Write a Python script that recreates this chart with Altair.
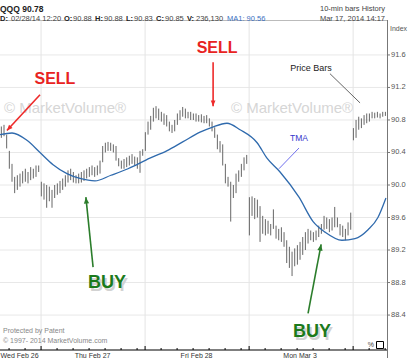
import altair as alt
import pandas as pd

# ---------------- data ----------------
# 10-minute bars, Wed Feb 26 (partial) .. Tue Mar 4 (partial)
high = [90.72, 90.74, 90.62, 90.42, 90.26, 90.10, 90.12, 90.14, 90.17, 90.20, 90.16, 90.22, 90.20, 90.24, 90.24,
        90.04, 90.02, 90.00, 89.98, 89.94, 90.00, 90.02, 90.05, 90.08, 90.12, 90.18, 90.20, 90.16, 90.12, 90.14,
        90.16, 90.18, 90.20, 90.22, 90.24, 90.22, 90.24, 90.30, 90.48, 90.52, 90.53, 90.52, 90.50, 90.48, 90.33,
        90.30, 90.32, 90.34, 90.36, 90.38, 90.35, 90.34, 90.42, 90.44,
        90.65, 90.78, 90.85, 90.95, 90.97, 90.94, 90.90, 90.88, 90.86, 90.78, 90.74, 90.80, 90.88, 90.92, 90.96,
        90.94, 90.90, 90.90, 90.88, 90.88, 90.86, 90.87, 90.85, 90.86, 90.82, 90.78, 90.71, 90.62, 90.54, 90.50,
        90.26, 90.10, 90.04, 90.00, 90.14, 90.18, 90.26, 90.34, 90.37,
        89.85, 89.86, 89.84, 89.82, 89.74, 89.62, 89.58, 89.56, 89.52, 89.70, 89.50, 89.46, 89.48, 89.42, 89.32,
        89.24, 89.18, 89.22, 89.26, 89.30, 89.36, 89.42, 89.46, 89.44, 89.42, 89.44, 89.50, 89.52, 89.62, 89.60,
        89.58, 89.60, 89.73, 89.60, 89.52, 89.50, 89.46, 89.54, 89.66,
        90.70, 90.80, 90.84, 90.82, 90.86, 90.88, 90.88, 90.90, 90.89, 90.90, 90.88, 90.90, 90.90]
low = [90.58, 90.60, 90.45, 90.20, 90.04, 89.90, 89.94, 89.98, 90.02, 90.04, 90.02, 90.06, 90.08, 90.10, 90.16,
       89.86, 89.82, 89.72, 89.80, 89.72, 89.84, 89.88, 89.90, 89.94, 89.98, 90.03, 90.06, 90.03, 90.02, 90.02,
       90.03, 90.05, 90.08, 90.10, 90.12, 90.10, 90.12, 90.14, 90.28, 90.40, 90.42, 90.42, 90.40, 90.30, 90.23,
       90.20, 90.20, 90.22, 90.24, 90.26, 90.24, 90.20, 90.15, 90.36,
       90.42, 90.62, 90.68, 90.78, 90.82, 90.80, 90.78, 90.74, 90.72, 90.66, 90.64, 90.66, 90.74, 90.80, 90.84,
       90.82, 90.82, 90.80, 90.80, 90.78, 90.78, 90.77, 90.76, 90.76, 90.72, 90.66, 90.58, 90.44, 90.40, 90.24,
       90.02, 89.98, 89.55, 89.84, 89.90, 90.04, 90.10, 90.18, 90.26,
       89.38, 89.62, 89.58, 89.60, 89.30, 89.40, 89.38, 89.40, 89.38, 89.46, 89.34, 89.32, 89.30, 89.24, 89.04,
       88.98, 88.88, 89.00, 89.02, 89.08, 89.14, 89.20, 89.28, 89.32, 89.30, 89.32, 89.36, 89.40, 89.45, 89.46,
       89.42, 89.44, 89.48, 89.48, 89.38, 89.36, 89.32, 89.38, 89.45,
       90.55, 90.58, 90.68, 90.70, 90.74, 90.76, 90.78, 90.82, 90.82, 90.83, 90.82, 90.84, 90.85]

# TMA curve, read at a set of bar positions
ma_bar = [-0.5, 4, 9.6, 14.5, 19.4, 24.6, 29.5, 35.1, 41.1, 47.5, 55.7, 62, 68, 74.5, 79, 84.6, 89.5,
          95.9, 99.6, 104.5, 111.6, 116.9, 121.4, 127.7, 132.6, 137.5, 141.2, 144.2]
ma_val = [90.62, 90.64, 90.55, 90.40, 90.25, 90.14, 90.08, 90.05, 90.12, 90.20, 90.33, 90.42, 90.53, 90.65,
          90.71, 90.76, 90.68, 90.52, 90.33, 90.16, 89.85, 89.55, 89.42, 89.32, 89.34, 89.45, 89.60, 89.84]

price_ticks = [88.4, 88.8, 89.2, 89.6, 90.0, 90.4, 90.8, 91.2, 91.6]
day_names = ["Wed Feb 26", "Thu Feb 27", "Fri Feb 28", "Mon Mar 3"]
day_label_bar = [-0.3, 34.2, 73.2, 112.0]
day_open_bar = [14.9, 53.9, 92.9, 131.9]
hour_tick_bar = [2.9, 8.9, 20.9, 26.9, 32.9, 38.9, 44.9, 50.9, 59.9, 65.9, 71.9, 77.9, 83.9, 89.9,
                 98.9, 104.9, 110.9, 116.9, 122.9, 128.9, 137.9, 143.9]

header_left = "QQQ  90.78"
quote_parts = ["D:", "02/28/14 12:20", "O:", "90.88", "H:", "90.88", "L:", "90.83", "C:", "90.85",
               "V:", "236,130", "MA1: 90.56"]
header_right = ["10-min bars  History", "Mar 17, 2014 14:17"]
footer = ["Protected by Patent", "\u00a9 1997- 2014 MarketVolume.com"]

sell_text = ["SELL", "SELL"]
sell_at = [(20.1, 91.30), (80.9, 91.68)]
buy_text = ["BUY", "BUY"]
buy_at = [(39.6, 88.79), (116.5, 88.19)]
red_arrows = [((14.5, 91.11), (2.1, 90.67)), ((79.4, 91.51), (79.4, 90.97))]
green_arrows = [((34.4, 88.99), (31.7, 89.85)), ((115.0, 88.42), (119.9, 89.27))]

# ---------------- layout ----------------
W, H = 387, 330
FONT = "Liberation Sans"
xs = alt.Scale(domain=[-0.5, 144.6], nice=False, zero=False)
ys = alt.Scale(domain=[87.97, 92.03], nice=False, zero=False)


def X(f="g"):
    return alt.X(f"{f}:Q", scale=xs, axis=None)


def Y(f="p"):
    return alt.Y(f"{f}:Q", scale=ys, axis=None)


def PX(f):
    return alt.X(f"{f}:Q", scale=None, axis=None)


def PY(f):
    return alt.Y(f"{f}:Q", scale=None, axis=None)


one_row = pd.DataFrame({"a": [0]})
bars_df = pd.DataFrame({"g": list(range(len(high))), "high": high, "low": low})
ma_df = pd.DataFrame({"g": ma_bar, "p": ma_val})
yt_df = pd.DataFrame({"p": price_ticks, "t": [f"{v:.1f}" for v in price_ticks]})

# grid + frame
grid_h = alt.Chart(yt_df).mark_rule(color="#e8e8e8").encode(y=Y(), x=alt.value(0), x2=alt.value(W))
grid_v = alt.Chart(pd.DataFrame({"g": day_open_bar})).mark_rule(color="#e4e4e4").encode(
    x=X(), y=alt.value(0), y2=alt.value(H))
top_line = alt.Chart(one_row).mark_rule(color="#bbb").encode(
    y=alt.value(0.5), x=alt.value(0), x2=alt.value(W))
right_line = alt.Chart(one_row).mark_rule(color="#777").encode(
    x=alt.value(W + 0.5), y=alt.value(0), y2=alt.value(H + 8))
bottom_line = alt.Chart(one_row).mark_rule(color="#000", strokeWidth=1.2).encode(
    y=alt.value(H), x=alt.value(0), x2=alt.value(W))
ytick = alt.Chart(yt_df).mark_rule(color="#777").encode(y=Y(), x=alt.value(W), x2=alt.value(W + 3))
ylab = alt.Chart(yt_df).mark_text(font=FONT, fontSize=7.5, color="#555", align="left",
                                  baseline="middle").encode(x=alt.value(W + 4), y=Y(), text="t:N")

# price bars and TMA
bars = alt.Chart(bars_df).mark_rule(color="#666", strokeWidth=1).encode(
    x=X(), y=Y("low"), y2="high:Q")
ma = alt.Chart(ma_df).mark_line(color="#2f6aad", strokeWidth=1.3, interpolate="monotone").encode(
    x=X(), y=Y())

# x axis ticks and day labels
ticks_small = alt.Chart(pd.DataFrame({"g": hour_tick_bar})).mark_rule(color="#000").encode(
    x=X(), y=alt.value(H - 2), y2=alt.value(H))
ticks_day = alt.Chart(pd.DataFrame({"g": day_open_bar})).mark_rule(color="#000").encode(
    x=X(), y=alt.value(H - 4), y2=alt.value(H))
day_df = pd.DataFrame({"g": day_label_bar, "t": day_names})
day_first = alt.Chart(day_df.iloc[:1]).mark_text(font=FONT, fontSize=7, color="#333", align="left",
                                                  baseline="top").encode(
    x=X(), y=alt.value(H + 2), text="t:N")
day_rest = alt.Chart(day_df.iloc[1:]).mark_text(font=FONT, fontSize=7, color="#333", align="center",
                                                 baseline="top").encode(
    x=X(), y=alt.value(H + 2), text="t:N")

# watermarks
wm = alt.Chart(pd.DataFrame({"g": [23.9, 109.0], "p": [90.95, 90.95],
                             "t": ["\u00a9 MarketVolume\u00ae"] * 2})).mark_text(
    font=FONT, fontSize=15, color="#d6d6d6").encode(x=X(), y=Y(), text="t:N")


def arrow_layers(arrows, color, angles, size):
    df = pd.DataFrame({"g": [a[0][0] for a in arrows], "p": [a[0][1] for a in arrows],
                       "g2": [a[1][0] for a in arrows], "p2": [a[1][1] for a in arrows],
                       "ang": angles})
    line = alt.Chart(df).mark_rule(color=color, strokeWidth=1.6).encode(
        x=X(), y=Y(), x2="g2:Q", y2="p2:Q")
    head = alt.Chart(df).mark_point(shape="M0,0L-0.5,1.2L0.5,1.2Z", filled=True, opacity=1,
                                    color=color, size=size).encode(
        x=X("g2"), y=Y("p2"), angle=alt.Angle("ang:Q", scale=None))
    return [line, head]


red = arrow_layers(red_arrows, "#ee2a2a", [222.5, 180], 90)
green = arrow_layers(green_arrows, "#2b7d2b", [354.3, 10.7], 110)

sell = alt.Chart(pd.DataFrame({"g": [a[0] for a in sell_at], "p": [a[1] for a in sell_at],
                               "t": sell_text})).mark_text(
    font=FONT, fontSize=16, fontWeight="bold", color="#e8231f").encode(x=X(), y=Y(), text="t:N")
buy_df = pd.DataFrame({"g": [a[0] for a in buy_at], "p": [a[1] for a in buy_at], "t": buy_text})
buy_sh = alt.Chart(buy_df).mark_text(font=FONT, fontSize=18, fontWeight="bold", color="#d2d2d2",
                                     dx=2, dy=3).encode(x=X(), y=Y(), text="t:N")
buy = alt.Chart(buy_df).mark_text(font=FONT, fontSize=18, fontWeight="bold", color="#1c7a1c").encode(
    x=X(), y=Y(), text="t:N")

pb_line = alt.Chart(pd.DataFrame({"g": [123.2], "p": [91.37], "g2": [134.5], "p2": [91.01]})).mark_rule(
    color="#666", strokeWidth=1).encode(x=X(), y=Y(), x2="g2:Q", y2="p2:Q")
pb_text = alt.Chart(pd.DataFrame({"g": [116.1], "p": [91.44], "t": ["Price Bars"]})).mark_text(
    font=FONT, fontSize=9, color="#222").encode(x=X(), y=Y(), text="t:N")
tma_line = alt.Chart(pd.DataFrame({"g": [104.1], "p": [90.20], "g2": [111.6], "p2": [90.455]})).mark_rule(
    color="#7070ee", strokeWidth=1).encode(x=X(), y=Y(), x2="g2:Q", y2="p2:Q")
tma_text = alt.Chart(pd.DataFrame({"g": [111.6], "p": [90.58], "t": ["TMA"]})).mark_text(
    font=FONT, fontSize=8.5, color="#3636cc").encode(x=X(), y=Y(), text="t:N")

# header texts (above the plot area)
hdr1 = alt.Chart(pd.DataFrame({"t": [header_left]})).mark_text(
    font=FONT, fontSize=8.5, fontWeight="bold", color="#222", align="left").encode(
    x=alt.value(0), y=alt.value(-11.5), text="t:N")
q_x = [0, 11, 64, 73, 95, 104, 126, 134, 156, 165, 187, 196, 227]
q_bold = [True, False] * 6 + [False]
q_df = pd.DataFrame({"t": quote_parts, "x": q_x, "b": q_bold})
q_norm = alt.Chart(q_df[~q_df.b & (q_df.t != "MA1: 90.56")]).mark_text(
    font=FONT, fontSize=7.5, color="#444", align="left").encode(
    x=PX("x"), y=alt.value(-1.5), text="t:N")
q_b = alt.Chart(q_df[q_df.b]).mark_text(font=FONT, fontSize=7.5, fontWeight="bold", color="#222",
                                         align="left").encode(
    x=PX("x"), y=alt.value(-1.5), text="t:N")
q_ma = alt.Chart(q_df[q_df.t == "MA1: 90.56"]).mark_text(font=FONT, fontSize=7.5, color="#3a6fc0",
                                                          align="left").encode(
    x=PX("x"), y=alt.value(-1.5), text="t:N")
hr_df = pd.DataFrame({"t": header_right, "y": [-11.5, -1.5]})
hdr_r = alt.Chart(hr_df).mark_text(font=FONT, fontSize=7.5, color="#444", align="right").encode(
    x=alt.value(385), y=PY("y"), text="t:N")
idx = alt.Chart(pd.DataFrame({"t": ["Index"]})).mark_text(font=FONT, fontSize=7, color="#555",
                                                          align="left").encode(
    x=alt.value(390), y=alt.value(9), text="t:N")
ft_df = pd.DataFrame({"t": footer, "y": [311, 321]})
foot = alt.Chart(ft_df).mark_text(font=FONT, fontSize=7, color="#888", align="left").encode(
    x=alt.value(3), y=PY("y"), text="t:N")
pct = alt.Chart(pd.DataFrame({"t": ["%"]})).mark_text(font=FONT, fontSize=7, color="#444",
                                                      align="right").encode(
    x=alt.value(374), y=alt.value(325), text="t:N")
box = alt.Chart(one_row).mark_rect(fill="white", stroke="#000", strokeWidth=1).encode(
    x=alt.value(376.5), x2=alt.value(383.5), y=alt.value(321.5), y2=alt.value(328.5))

chart = alt.layer(
    grid_h, grid_v, wm, bars, ma, top_line, right_line, bottom_line, ytick, ylab,
    ticks_small, ticks_day, day_first, day_rest,
    *red, *green, sell, buy_sh, buy, pb_line, pb_text, tma_line, tma_text,
    hdr1, q_norm, q_b, q_ma, hdr_r, idx, foot, pct, box
).properties(
    width=W, height=H, autosize="none",
    padding={"left": 0, "top": 20, "right": 24, "bottom": 8},
    background="white"
).configure_view(stroke=None)

chart.save("out.html", embed_options={"renderer": "svg", "actions": False})
